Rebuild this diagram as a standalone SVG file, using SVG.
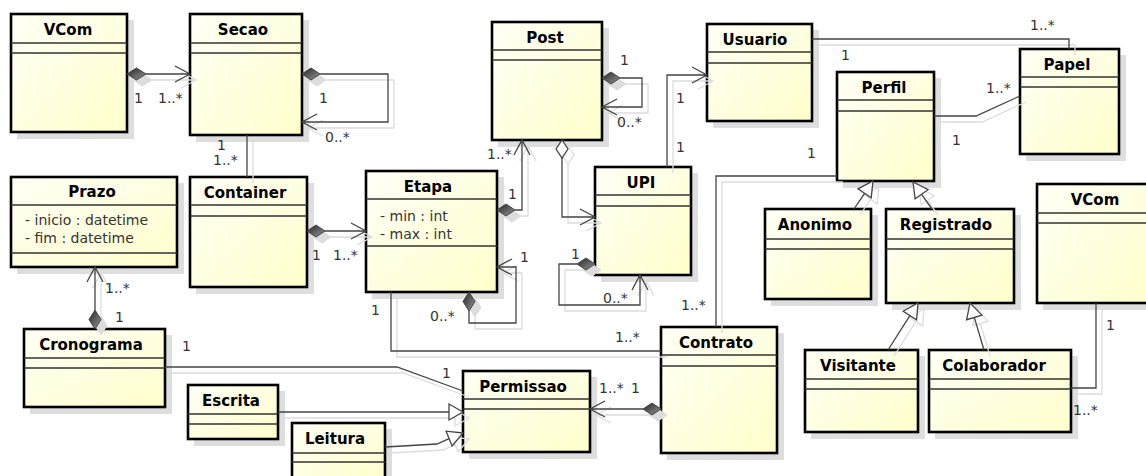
<svg xmlns="http://www.w3.org/2000/svg" xmlns:xlink="http://www.w3.org/1999/xlink" width="1146" height="476" viewBox="0 0 1146 476">
<defs>
<linearGradient id="bg" x1="0" y1="0" x2="1" y2="1">
<stop offset="0" stop-color="#fffff6"/>
<stop offset="1" stop-color="#ffffcc"/>
</linearGradient>
<linearGradient id="dg" x1="0" y1="0" x2="1" y2="1">
<stop offset="0" stop-color="#222"/>
<stop offset="1" stop-color="#999"/>
</linearGradient>
<style>
.box{fill:url(#bg);stroke:#000;stroke-width:2.6}
.bsh{fill:#dedede;stroke:none}
.sep{stroke:#333;stroke-width:1.3}
.t{font-family:"DejaVu Sans",sans-serif;font-size:15px;font-weight:bold;fill:#000;text-anchor:middle}
.a{font-family:"DejaVu Sans",sans-serif;font-size:14px;fill:#333}
.m{font-family:"DejaVu Sans",sans-serif;font-size:14px;fill:#333}
.conn{--s:#444;--df:url(#dg);--hf:#fff}
.shadow{--s:#dcdcdc;--df:#dcdcdc;--hf:none}
.ln{fill:none;stroke:var(--s);stroke-width:1.3}
.dia{fill:var(--df);stroke:var(--s);stroke-width:1}
.hol{fill:var(--hf);stroke:var(--s);stroke-width:1.3}
</style>
<g id="cdefs">
<!-- VCom -> Secao -->
<path class="ln" d="M146 74H190M175 66L190 74L175 82"/>
<path class="dia" d="M127 74L136.5 68L146 74L136.5 80Z"/>
<!-- Secao self -->
<path class="ln" d="M320 74H388V122H302M317 114L302 122L317 130"/>
<path class="dia" d="M302 74L311 68L320 74L311 80Z"/>
<!-- Secao - Container -->
<path class="ln" d="M247 135V177"/>
<!-- Container -> Etapa -->
<path class="ln" d="M325 231H366M351 223L366 231L351 239"/>
<path class="dia" d="M307 231L316 225L325 231L316 237Z"/>
<!-- Cronograma -> Prazo -->
<path class="ln" d="M95 310V267M87 282L95 267L103 282"/>
<path class="dia" d="M95 329L89 319.5L95 310L101 319.5Z"/>
<!-- Etapa -> Post -->
<path class="ln" d="M515 210H522V140M514 155L522 140L530 155"/>
<path class="dia" d="M497 210L506 204L515 210L506 216Z"/>
<!-- Post self -->
<path class="ln" d="M620 78H642V107H602M617 99L602 107L617 115"/>
<path class="dia" d="M602 78L611 72L620 78L611 84Z"/>
<!-- Post o-> UPI -->
<path class="ln" d="M562 158V217H595M580 209L595 217L580 225"/>
<path class="hol" d="M562 140L568 149L562 158L556 149Z"/>
<!-- UPI self -->
<path class="ln" d="M577 264H559V305H640V275M632 290L640 275L648 290"/>
<path class="dia" d="M595 264L586 258L577 264L586 270Z"/>
<!-- UPI -> Usuario -->
<path class="ln" d="M667 167V75H707M692 67L707 75L692 83"/>
<!-- Usuario - Papel -->
<path class="ln" d="M812 39H1069V49"/>
<!-- Perfil - Papel -->
<path class="ln" d="M934 116H976L1020 96"/>
<!-- Perfil - Contrato -->
<path class="ln" d="M837 176H716V327"/>
<!-- Etapa - Contrato -->
<path class="ln" d="M391 292V351H661"/>
<!-- Etapa self -->
<path class="ln" d="M469 311V323H516V267H497M512 259L497 267L512 275"/>
<path class="dia" d="M469 292L475 301.5L469 311L463 301.5Z"/>
<!-- Cronograma - Permissao -->
<path class="ln" d="M165 367H397L463 391"/>
<!-- Escrita -> Permissao -->
<path class="ln" d="M278 412H449"/>
<path class="hol" d="M463 412L449 404L449 420Z"/>
<!-- Leitura -> Permissao -->
<path class="ln" d="M385 447L437 444L449.1 438.6"/>
<path class="hol" d="M463 433L446.1 431.2L452.1 446Z"/>
<!-- Contrato -> Permissao -->
<path class="ln" d="M643 409H590M605 401L590 409L605 417"/>
<path class="dia" d="M661 409L652 403L643 409L652 415Z"/>
<!-- Anonimo -> Perfil -->
<path class="ln" d="M854 209L864.6 193.4"/>
<path class="hol" d="M873 181L871.2 197.9L858 188.9Z"/>
<!-- Registrado -> Perfil -->
<path class="ln" d="M932 209L921.6 194.3"/>
<path class="hol" d="M913 182L928.1 189.7L915.1 198.9Z"/>
<!-- Visitante -> Registrado -->
<path class="ln" d="M888 350L909.9 315.6"/>
<path class="hol" d="M918 303L916.6 319.9L903.2 311.3Z"/>
<!-- Colaborador -> Registrado -->
<path class="ln" d="M984 350L974.3 317.4"/>
<path class="hol" d="M970 303L982 315.1L966.6 319.7Z"/>
<!-- VCom2 - Colaborador -->
<path class="ln" d="M1096 303V388H1071"/>
</g>
</defs>
<rect x="0" y="0" width="1146" height="476" fill="#fff"/>

<g id="box-shadows">
<rect class="bsh" x="17" y="20" width="117" height="119"/>
<rect class="bsh" x="196" y="20" width="113" height="122"/>
<rect class="bsh" x="498" y="28" width="111" height="119"/>
<rect class="bsh" x="713" y="30" width="106" height="98"/>
<rect class="bsh" x="1026" y="55" width="100" height="106"/>
<rect class="bsh" x="843" y="78" width="98" height="110"/>
<rect class="bsh" x="17" y="183" width="167" height="91"/>
<rect class="bsh" x="196" y="183" width="118" height="111"/>
<rect class="bsh" x="372" y="177" width="132" height="122"/>
<rect class="bsh" x="601" y="173" width="97" height="109"/>
<rect class="bsh" x="771" y="215" width="107" height="91"/>
<rect class="bsh" x="892" y="215" width="129" height="95"/>
<rect class="bsh" x="1043" y="190" width="115" height="120"/>
<rect class="bsh" x="30" y="335" width="142" height="79"/>
<rect class="bsh" x="194" y="391" width="91" height="55"/>
<rect class="bsh" x="298" y="429" width="94" height="60"/>
<rect class="bsh" x="469" y="377" width="128" height="82"/>
<rect class="bsh" x="667" y="333" width="117" height="127"/>
<rect class="bsh" x="811" y="356" width="114" height="83"/>
<rect class="bsh" x="935" y="356" width="143" height="83"/>
</g>

<g id="VCom1">
<rect class="box" x="11" y="14" width="116" height="118"/>
<path class="sep" d="M11 43H127M11 53H127"/>
<text class="t" x="68" y="35">VCom</text>
</g>
<g id="Secao">
<rect class="box" x="190" y="14" width="112" height="121"/>
<path class="sep" d="M190 43H302M190 53H302"/>
<text class="t" x="243" y="35">Secao</text>
</g>
<g id="Post">
<rect class="box" x="492" y="22" width="110" height="118"/>
<path class="sep" d="M492 50H602M492 60H602"/>
<text class="t" x="545" y="43">Post</text>
</g>
<g id="Usuario">
<rect class="box" x="707" y="24" width="105" height="97"/>
<path class="sep" d="M707 52H812M707 63H812"/>
<text class="t" x="755" y="45">Usuario</text>
</g>
<g id="Papel">
<rect class="box" x="1020" y="49" width="99" height="105"/>
<path class="sep" d="M1020 77H1119M1020 87H1119"/>
<text class="t" x="1067" y="70">Papel</text>
</g>
<g id="Perfil">
<rect class="box" x="837" y="72" width="97" height="109"/>
<path class="sep" d="M837 100H934M837 111H934"/>
<text class="t" x="884" y="93">Perfil</text>
</g>
<g id="Prazo">
<rect class="box" x="11" y="177" width="166" height="90"/>
<path class="sep" d="M11 205H177M11 253H177"/>
<text class="t" x="92" y="197">Prazo</text>
<text class="a" x="25" y="225">- inicio : datetime</text>
<text class="a" x="25" y="243">- fim : datetime</text>
</g>
<g id="Container">
<rect class="box" x="190" y="177" width="117" height="110"/>
<path class="sep" d="M190 205H307M190 216H307"/>
<text class="t" x="245" y="198">Container</text>
</g>
<g id="Etapa">
<rect class="box" x="366" y="171" width="131" height="121"/>
<path class="sep" d="M366 199H497M366 246H497"/>
<text class="t" x="428" y="192">Etapa</text>
<text class="a" x="380" y="221">- min : int</text>
<text class="a" x="380" y="239">- max : int</text>
</g>
<g id="UPI">
<rect class="box" x="595" y="167" width="96" height="108"/>
<path class="sep" d="M595 195H691M595 206H691"/>
<text class="t" x="641" y="188">UPI</text>
</g>
<g id="Anonimo">
<rect class="box" x="765" y="209" width="106" height="90"/>
<path class="sep" d="M765 239H871M765 249H871"/>
<text class="t" x="815" y="230">Anonimo</text>
</g>
<g id="Registrado">
<rect class="box" x="886" y="209" width="128" height="94"/>
<path class="sep" d="M886 239H1014M886 249H1014"/>
<text class="t" x="946" y="230">Registrado</text>
</g>
<g id="VCom2">
<rect class="box" x="1037" y="184" width="115" height="119"/>
<path class="sep" d="M1037 213H1152M1037 223H1152"/>
<text class="t" x="1095" y="205">VCom</text>
</g>
<g id="Cronograma">
<rect class="box" x="24" y="329" width="141" height="78"/>
<path class="sep" d="M24 358H165M24 368H165"/>
<text class="t" x="91" y="350">Cronograma</text>
</g>
<g id="Escrita">
<rect class="box" x="188" y="385" width="90" height="54"/>
<path class="sep" d="M188 414H278M188 424H278"/>
<text class="t" x="231" y="406">Escrita</text>
</g>
<g id="Leitura">
<rect class="box" x="292" y="423" width="93" height="60"/>
<path class="sep" d="M292 453H385M292 462H385"/>
<text class="t" x="335" y="444">Leitura</text>
</g>
<g id="Permissao">
<rect class="box" x="463" y="371" width="127" height="81"/>
<path class="sep" d="M463 399H590M463 409H590"/>
<text class="t" x="523" y="392">Permissao</text>
</g>
<g id="Contrato">
<rect class="box" x="661" y="327" width="116" height="126"/>
<path class="sep" d="M661 355H777M661 366H777"/>
<text class="t" x="716" y="348">Contrato</text>
</g>
<g id="Visitante">
<rect class="box" x="805" y="350" width="113" height="82"/>
<path class="sep" d="M805 379H918M805 389H918"/>
<text class="t" x="858" y="371">Visitante</text>
</g>
<g id="Colaborador">
<rect class="box" x="929" y="350" width="142" height="82"/>
<path class="sep" d="M929 379H1071M929 389H1071"/>
<text class="t" x="994" y="371">Colaborador</text>
</g>

<g id="connectors">
<use class="shadow" xlink:href="#cdefs" href="#cdefs" transform="translate(6,6)"/>
<use class="conn" xlink:href="#cdefs" href="#cdefs"/>
</g>

<g id="labels">
<text class="m" x="134" y="103">1</text>
<text class="m" x="158" y="103">1..*</text>
<text class="m" x="319" y="103">1</text>
<text class="m" x="325" y="142">0..*</text>
<text class="m" x="217" y="150">1</text>
<text class="m" x="213" y="165">1..*</text>
<text class="m" x="312" y="260">1</text>
<text class="m" x="333" y="260">1..*</text>
<text class="m" x="105" y="293">1..*</text>
<text class="m" x="115" y="322">1</text>
<text class="m" x="508" y="199">1</text>
<text class="m" x="487" y="159">1..*</text>
<text class="m" x="620" y="65">1</text>
<text class="m" x="617" y="127">0..*</text>
<text class="m" x="571" y="259">1</text>
<text class="m" x="603" y="303">0..*</text>
<text class="m" x="676" y="103">1</text>
<text class="m" x="676" y="152">1</text>
<text class="m" x="1030" y="30">1..*</text>
<text class="m" x="841" y="60">1</text>
<text class="m" x="986" y="93">1..*</text>
<text class="m" x="952" y="145">1</text>
<text class="m" x="807" y="158">1</text>
<text class="m" x="681" y="310">1..*</text>
<text class="m" x="371" y="315">1</text>
<text class="m" x="615" y="342">1..*</text>
<text class="m" x="520" y="262">1</text>
<text class="m" x="430" y="321">0..*</text>
<text class="m" x="182" y="351">1</text>
<text class="m" x="442" y="378">1</text>
<text class="m" x="599" y="393">1..*</text>
<text class="m" x="631" y="393">1</text>
<text class="m" x="1106" y="330">1</text>
<text class="m" x="1073" y="415">1..*</text>
</g>
</svg>
